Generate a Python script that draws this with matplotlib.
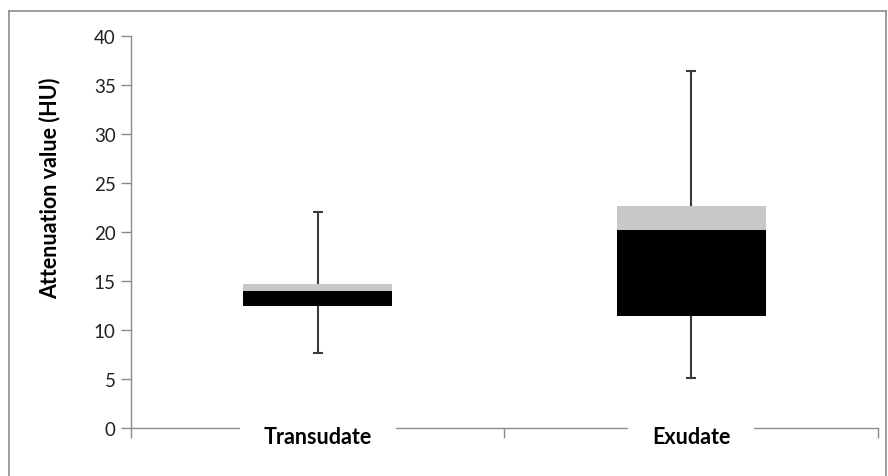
import matplotlib.pyplot as plt
from matplotlib.lines import Line2D

plt.rcParams['font.family'] = ['Lato', 'DejaVu Sans']

# Box values (HU)
categories = ['Transudate', 'Exudate']
whisker_low = [7.7, 5.1]
q1 = [12.4, 11.4]
median = [14.0, 20.2]
q3 = [14.7, 22.7]
whisker_high = [22.0, 36.4]

fig = plt.figure(figsize=(8.88, 4.77), dpi=100)
ax = fig.add_axes([0.1475, 0.1006, 0.8412, 0.8218])

x = list(range(len(categories)))
axis_col = '#8c8c8c'

# whiskers drawn behind the bars
lower = [q - lo for q, lo in zip(q1, whisker_low)]
upper = [hi - q for hi, q in zip(whisker_high, q1)]
ax.errorbar(x, q1, yerr=[lower, upper], fmt='none', ecolor='#3a3a3a',
            elinewidth=1.5, capsize=3.8, capthick=1.5, zorder=1)

ax.bar(x, [m - a for m, a in zip(median, q1)], bottom=q1, width=0.4,
       color='black', zorder=2)
ax.bar(x, [b - m for b, m in zip(q3, median)], bottom=median, width=0.4,
       color='#c8c8c8', zorder=2)

ax.set_xlim(-0.5, 1.5)
ax.set_ylim(0, 40)
ax.set_yticks(range(0, 41, 5))
ax.tick_params(axis='y', colors=axis_col, labelcolor='#222222', labelsize=13.5,
               length=7, width=1, pad=4)
ax.set_xticks([-0.5, 0.5, 1.5])
ax.set_xticklabels([])
ax.tick_params(axis='x', colors=axis_col, length=7, width=1)

for s in ['top', 'right']:
    ax.spines[s].set_visible(False)
for s in ['left', 'bottom']:
    ax.spines[s].set_color(axis_col)
    ax.spines[s].set_linewidth(1)

# category labels sit on the axis line, hiding it behind them
for xi, name in zip(x, categories):
    ax.text(xi, -0.85, name, ha='center', va='center', fontsize=15.5,
            fontweight='bold', zorder=5, clip_on=False,
            bbox=dict(facecolor='white', edgecolor='none', pad=17))

fig.text(50 / 888, 1 - 188 / 477, 'Attenuation value (HU)', rotation=90,
         ha='center', va='center', fontsize=15.5, fontweight='bold')

# outer frame
fr = '#8c8c8c'
fig.add_artist(Line2D([9 / 888, 9 / 888], [0, 1 - 12 / 477], color=fr, lw=1.2))
fig.add_artist(Line2D([9 / 888, 886 / 888], [1 - 12 / 477, 1 - 12 / 477], color=fr, lw=1.2))
fig.add_artist(Line2D([886 / 888, 886 / 888], [0, 1 - 12 / 477], color=fr, lw=1.2))

fig.savefig('out.png', dpi=100)
